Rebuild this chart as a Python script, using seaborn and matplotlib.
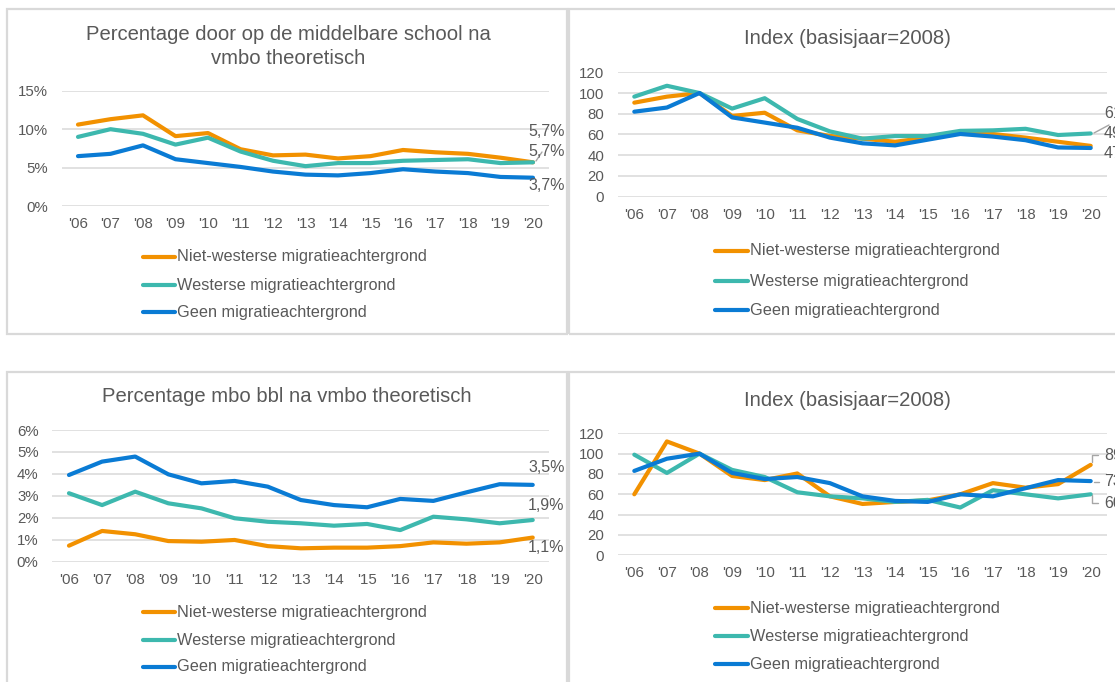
import matplotlib
matplotlib.use("Agg")
import matplotlib.pyplot as plt
from matplotlib.lines import Line2D
from matplotlib.patches import Rectangle
import numpy as np
import pandas as pd
import seaborn as sns

# ---- data -------------------------------------------------------------
jaren = ["'06", "'07", "'08", "'09", "'10", "'11", "'12", "'13", "'14",
         "'15", "'16", "'17", "'18", "'19", "'20"]
groepen = ["Niet-westerse migratieachtergrond",
           "Westerse migratieachtergrond",
           "Geen migratieachtergrond"]

# percentage door op de middelbare school na vmbo theoretisch (%)
door_nw = [10.6, 11.3, 11.8, 9.1, 9.5, 7.4, 6.6, 6.7, 6.2, 6.5, 7.3, 7.0, 6.8, 6.3, 5.7]
door_w = [9.0, 10.0, 9.4, 8.0, 8.9, 7.1, 5.9, 5.2, 5.6, 5.6, 5.9, 6.0, 6.1, 5.6, 5.7]
door_geen = [6.5, 6.8, 7.9, 6.1, 5.6, 5.1, 4.5, 4.1, 4.0, 4.3, 4.8, 4.5, 4.3, 3.8, 3.7]

# index door op de middelbare school (2008 = 100)
idx_door_nw = [90.7, 96.5, 100, 77.9, 81, 64, 58.6, 56, 53, 57, 62, 60.5, 57, 53, 49]
idx_door_w = [96.5, 107, 100, 85, 95, 75, 63, 56, 58.5, 58.5, 63.5, 64, 65.5, 59.5, 61]
idx_door_geen = [82, 86, 100, 76.5, 71.5, 66.5, 57, 51.5, 49.5, 55, 60.5, 58, 54.5, 47.5, 47]

# percentage mbo bbl na vmbo theoretisch (%)
bbl_nw = [0.73, 1.40, 1.25, 0.94, 0.91, 0.99, 0.71, 0.61, 0.64, 0.64, 0.71, 0.88, 0.82, 0.88, 1.1]
bbl_w = [3.12, 2.58, 3.19, 2.66, 2.43, 1.98, 1.82, 1.75, 1.64, 1.72, 1.44, 2.05, 1.93, 1.75, 1.9]
bbl_geen = [3.95, 4.56, 4.79, 3.98, 3.57, 3.68, 3.42, 2.81, 2.58, 2.48, 2.86, 2.77, 3.16, 3.53, 3.5]

# index mbo bbl (2008 = 100)
idx_bbl_nw = [60, 112, 100, 78, 74, 80.5, 58, 50.5, 52.5, 54, 60, 71, 66.5, 70, 89]
idx_bbl_w = [99, 81, 100, 84, 77, 62, 58, 56, 52.5, 54.5, 47, 64, 60, 56, 60]
idx_bbl_geen = [83, 95, 100, 81, 75, 77, 71, 58, 53.5, 52.5, 60, 58, 66, 74, 73]

kleuren = ["#F29100", "#3DB8AE", "#0A7BD4"]
TEKST = "#595959"
RAND = "#D9D9D9"

# ---- styling ----------------------------------------------------------
sns.set_theme(style="white")
plt.rcParams["font.family"] = ["Liberation Sans", "DejaVu Sans"]

W, H = 1115, 682
fig = plt.figure(figsize=(W / 100, H / 100), dpi=100)
fig.patch.set_facecolor("white")

LIJN = 3.0


def fx(x):
    return x / W


def fy(y):
    return 1 - y / H


def axes_px(left, top, right, bottom):
    return fig.add_axes([fx(left), fy(bottom), (right - left) / W, (bottom - top) / H])


def lange_tabel(reeksen):
    rows = []
    for groep, waarden in zip(groepen, reeksen):
        for i, v in enumerate(waarden):
            rows.append({"pos": i, "jaar": jaren[i], "groep": groep, "waarde": v})
    return pd.DataFrame(rows)


def teken(ax, reeksen, ymax, stap, fmt):
    df = lange_tabel(reeksen)
    sns.lineplot(data=df, x="pos", y="waarde", hue="groep", hue_order=groepen,
                 palette=kleuren, linewidth=LIJN, ax=ax, legend=False,
                 errorbar=None, sort=False)
    ax.set_xlim(-0.5, len(jaren) - 0.5)
    ax.set_ylim(0, ymax)
    ax.set_xticks(range(len(jaren)))
    ax.set_xticklabels(jaren)
    ticks = np.arange(0, ymax + stap / 2, stap)
    ax.set_yticks(ticks)
    ax.set_yticklabels([fmt(t) for t in ticks])
    ax.set_xlabel("")
    ax.set_ylabel("")
    ax.grid(axis="y", color=RAND, linewidth=1.1)
    ax.grid(axis="x", visible=False)
    ax.set_axisbelow(True)
    for s in ax.spines.values():
        s.set_visible(False)
    ax.tick_params(axis="x", length=0, pad=8, labelsize=10.8, labelcolor=TEKST)
    ax.tick_params(axis="y", length=0, pad=10, labelsize=10.8, labelcolor=TEKST)
    ax.patch.set_alpha(0)
    for ln in ax.get_lines():
        ln.set_clip_on(False)
        ln.set_solid_capstyle("round")
        ln.set_solid_joinstyle("round")


def legenda(x0, x1, ys):
    for kleur, groep, y in zip(kleuren, groepen, ys):
        fig.add_artist(Line2D([fx(x0), fx(x1)], [fy(y), fy(y)], transform=fig.transFigure,
                              color=kleur, linewidth=LIJN, solid_capstyle="round"))
        fig.text(fx(x1 + 2), fy(y), groep, ha="left", va="center",
                 fontsize=11.7, color=TEKST)


def label(x, y, tekst):
    fig.text(fx(x), fy(y), tekst, ha="left", va="center", fontsize=11.5, color=TEKST)


def leider(punten):
    xs = [fx(p[0]) for p in punten]
    ys = [fy(p[1]) for p in punten]
    fig.add_artist(Line2D(xs, ys, transform=fig.transFigure, color="#A6A6A6", linewidth=1))


def pct0(v):
    return f"{v:.0f}%"


def pct1(v):
    return f"{v:.1f}%".replace(".", ",")


def getal(v):
    return f"{v:.0f}"


# ---- panel frames -----------------------------------------------------
for (l, t, r, b) in [(7, 9, 567, 334), (569, 9, 1130, 334),
                     (7, 372, 567, 695), (569, 372, 1130, 695)]:
    fig.add_artist(Rectangle((fx(l), fy(b)), (r - l) / W, (b - t) / H,
                             transform=fig.transFigure, fill=False,
                             edgecolor=RAND, linewidth=1.6))

TITEL = 14.6

# ---- top left: percentage door ----------------------------------------
ax1 = axes_px(61.75, 90.7, 549.25, 206.2)
teken(ax1, [door_nw, door_w, door_geen], 15, 5, pct0)
fig.text(fx(288), fy(35), "Percentage door op de middelbare school na",
         ha="center", va="center", fontsize=TITEL, color=TEKST)
fig.text(fx(288), fy(58), "vmbo theoretisch", ha="center", va="center",
         fontsize=TITEL, color=TEKST)
legenda(143, 175, [257, 285, 312])
label(528, 131, pct1(door_nw[-1]))
label(528, 151, pct1(door_w[-1]))
label(528, 185, pct1(door_geen[-1]))
leider([(536, 161), (542, 152)])

# ---- top right: index door --------------------------------------------
ax2 = axes_px(618, 72.3, 1107, 196.7)
teken(ax2, [idx_door_nw, idx_door_w, idx_door_geen], 120, 20, getal)
fig.text(fx(847), fy(38), "Index (basisjaar=2008)", ha="center", va="center",
         fontsize=TITEL, color=TEKST)
legenda(715, 748, [251, 281, 310])
label(1104, 113, getal(idx_door_w[-1]))
label(1104, 133, getal(idx_door_nw[-1]))
label(1104, 153, getal(idx_door_geen[-1]))
leider([(1094, 133), (1109, 125)])

# ---- bottom left: percentage mbo bbl ----------------------------------
ax3 = axes_px(52.4, 430, 549.3, 561.7)
teken(ax3, [bbl_nw, bbl_w, bbl_geen], 6, 1, pct0)
fig.text(fx(287), fy(397), "Percentage mbo bbl na vmbo theoretisch",
         ha="center", va="center", fontsize=TITEL, color=TEKST)
legenda(143, 175, [612, 640, 667])
label(528, 468, pct1(bbl_geen[-1]))
label(528, 505, pct1(bbl_w[-1]))
label(528, 548, pct1(bbl_nw[-1]))

# ---- bottom right: index mbo bbl --------------------------------------
ax4 = axes_px(618, 433.3, 1107, 555.3)
teken(ax4, [idx_bbl_nw, idx_bbl_w, idx_bbl_geen], 120, 20, getal)
fig.text(fx(847), fy(400), "Index (basisjaar=2008)", ha="center", va="center",
         fontsize=TITEL, color=TEKST)
legenda(715, 748, [608, 636, 664])
label(1104, 455, getal(idx_bbl_nw[-1]))
label(1104, 482, getal(idx_bbl_geen[-1]))
label(1104, 503, getal(idx_bbl_w[-1]))
leider([(1092, 462), (1092, 455), (1098, 455)])
leider([(1094, 482), (1099, 482)])
leider([(1092, 495), (1092, 503), (1098, 503)])

fig.savefig("out.png", dpi=100, facecolor="white")
